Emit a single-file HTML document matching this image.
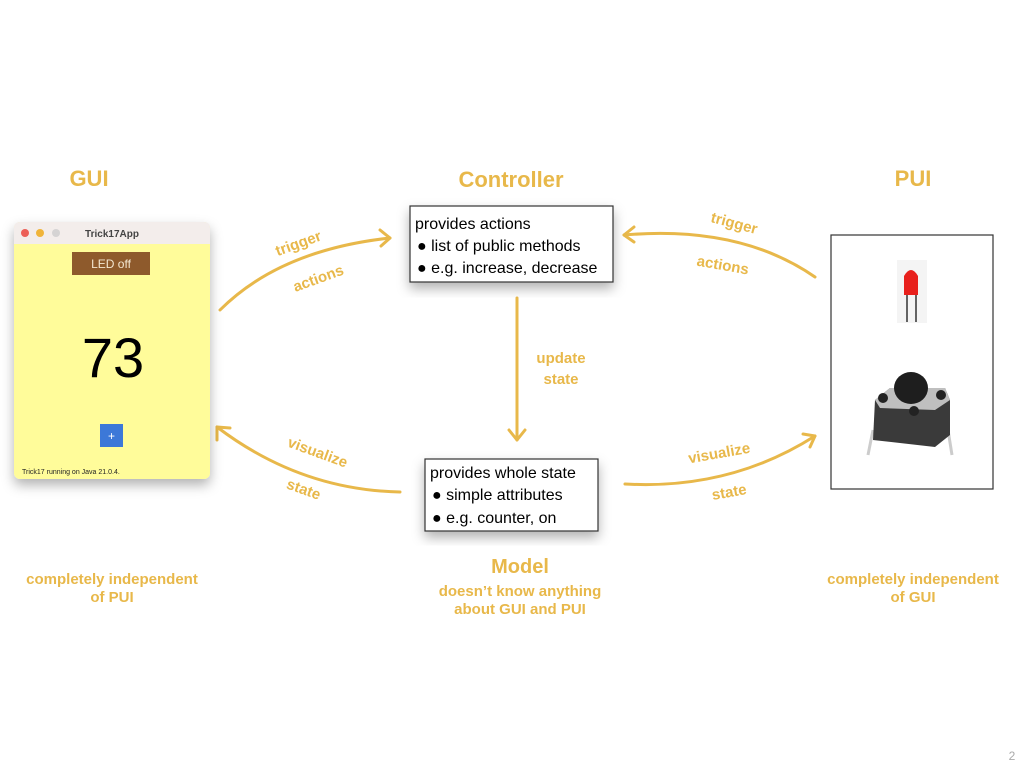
<!DOCTYPE html>
<html><head><meta charset="utf-8"><style>
body{margin:0;width:1024px;height:768px;background:#fff;overflow:hidden;position:relative;font-family:"Liberation Sans",sans-serif}
.h{font-family:"Liberation Sans",sans-serif;font-weight:bold;fill:#E8B84A}
</style></head><body>
<svg width="1024" height="768" style="position:absolute;left:0;top:0">
<defs><filter id="sh" x="-20%" y="-20%" width="140%" height="140%"><feDropShadow dx="0" dy="6" stdDeviation="6" flood-opacity="0.3"/></filter></defs>
<g class="h" text-anchor="middle">
<text x="89" y="186" font-size="22">GUI</text>
<text x="511" y="187" font-size="22">Controller</text>
<text x="913" y="186" font-size="22">PUI</text>
<text x="112" y="584" font-size="15">completely independent</text>
<text x="112" y="602" font-size="15">of PUI</text>
<text x="913" y="584" font-size="15">completely independent</text>
<text x="913" y="602" font-size="15">of GUI</text>
<text x="520" y="573" font-size="20">Model</text>
<text x="520" y="596" font-size="15">doesn’t know anything</text>
<text x="520" y="614" font-size="15">about GUI and PUI</text>
<text x="300" y="248" font-size="15" transform="rotate(-20 300 248)">trigger</text>
<text x="320" y="283" font-size="15" transform="rotate(-20 320 283)">actions</text>
<text x="733" y="228" font-size="15" transform="rotate(15 733 228)">trigger</text>
<text x="722" y="270" font-size="15" transform="rotate(10 722 270)">actions</text>
<text x="561" y="363" font-size="15">update</text>
<text x="561" y="384" font-size="15">state</text>
<text x="316" y="457" font-size="15" transform="rotate(20 316 457)">visualize</text>
<text x="302" y="494" font-size="15" transform="rotate(20 302 494)">state</text>
<text x="720" y="458" font-size="15" transform="rotate(-10 720 458)">visualize</text>
<text x="730" y="497" font-size="15" transform="rotate(-10 730 497)">state</text>
</g>
<g fill="none" stroke="#E8B84A" stroke-width="3" stroke-linecap="round" stroke-linejoin="round">
<path d="M220 310 Q280 250 390 238"/><path d="M380 230 L390 238 L381 246"/>
<path d="M815 277 Q740 225 624 235"/><path d="M634 227 L624 235 L634 242"/>
<path d="M517 298 L517 440"/><path d="M509 430 L517 440 L525 430"/>
<path d="M400 492 Q300 490 217 427"/><path d="M217 440 L217 427 L230 428"/>
<path d="M625 484 Q730 490 815 436"/><path d="M803 434 L815 436 L810 447"/>
</g>
<!-- GUI window -->
<g filter="url(#sh)"><rect x="14" y="222" width="196" height="257" rx="6" fill="#FFFC9A"/></g>
<path d="M14 244 V228 Q14 222 20 222 H204 Q210 222 210 228 V244 Z" fill="#F3EDEB"/>
<circle cx="25" cy="233" r="4" fill="#EC5F57"/><circle cx="40" cy="233" r="4" fill="#F0B43A"/><circle cx="56" cy="233" r="4" fill="#D5D3D3"/>
<text x="112" y="237" font-size="10" font-weight="bold" fill="#444" text-anchor="middle">Trick17App</text>
<rect x="72" y="252" width="78" height="23" fill="#8E5A2C"/>
<text x="111" y="268" font-size="12" fill="#f3e6d0" text-anchor="middle">LED off</text>
<text x="113" y="377" font-size="56" fill="#000" text-anchor="middle">73</text>
<rect x="100" y="424" width="23" height="23" fill="#3C78D8"/>
<text x="111.5" y="440" font-size="12" fill="#fff" text-anchor="middle">+</text>
<text x="22" y="474" font-size="7" fill="#222">Trick17 running on Java 21.0.4.</text>
<!-- Controller box -->
<rect x="410" y="206" width="203" height="76" fill="#fff" stroke="#333" stroke-width="1.2" filter="url(#sh)"/>
<text font-size="16" fill="#000"><tspan x="415" y="229">provides actions</tspan><tspan x="417" y="251">● list of public methods</tspan><tspan x="417" y="273">● e.g. increase, decrease</tspan></text>
<!-- Model box -->
<rect x="425" y="459" width="173" height="72" fill="#fff" stroke="#333" stroke-width="1.2" filter="url(#sh)"/>
<text font-size="16" fill="#000"><tspan x="430" y="478">provides whole state</tspan><tspan x="432" y="500">● simple attributes</tspan><tspan x="432" y="523">● e.g. counter, on</tspan></text>
<!-- PUI box -->
<rect x="831" y="235" width="162" height="254" fill="#fff" stroke="#333" stroke-width="1.2"/>
<rect x="897" y="260" width="30" height="63" fill="#f4f4f4"/>
<path d="M904 295 V276 Q911 264 918 276 V295 Z" fill="#e8201c"/>
<line x1="907" y1="295" x2="907" y2="322" stroke="#333" stroke-width="1.5"/><line x1="916" y1="295" x2="916" y2="322" stroke="#333" stroke-width="1.5"/>
<line x1="873" y1="430" x2="868" y2="455" stroke="#ccc" stroke-width="3"/><line x1="948" y1="430" x2="952" y2="455" stroke="#ccc" stroke-width="3"/>
<path d="M875 400 L890 388 L945 388 L950 400 L950 435 L935 447 L873 440 Z" fill="#3a3a3a"/>
<path d="M875 400 L890 388 L945 388 L950 400 L935 410 L880 408 Z" fill="#bfbfbf"/>
<circle cx="883" cy="398" r="5" fill="#222"/><circle cx="941" cy="395" r="5" fill="#222"/><circle cx="912" cy="388" r="4" fill="#222"/><circle cx="914" cy="411" r="5" fill="#222"/>
<ellipse cx="911" cy="388" rx="17" ry="16" fill="#1e1e1e"/>
<text x="1012" y="760" font-size="12" fill="#aaa" text-anchor="middle">2</text>
</svg>
</body></html>
